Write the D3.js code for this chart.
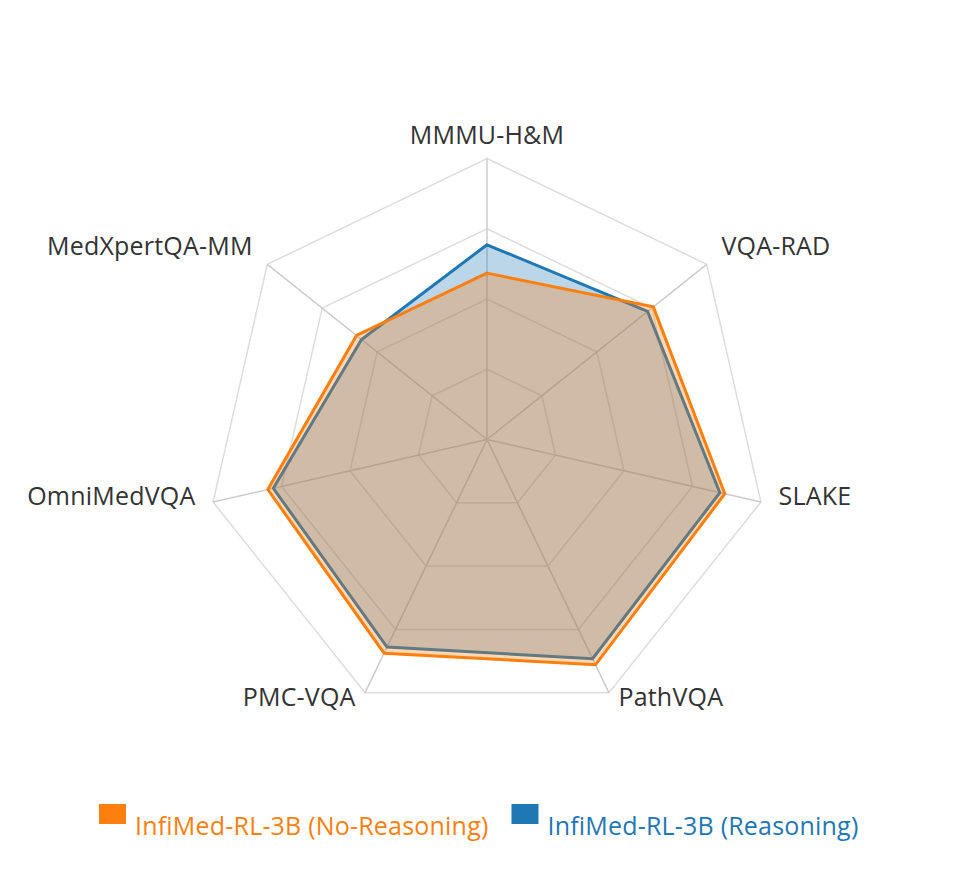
<!DOCTYPE html>
<html>
<head>
<meta charset="utf-8">
<script src="https://cdn.jsdelivr.net/npm/d3@7"></script>
<style>
  body { margin: 0; background: #fff; }
  text { font-family: "Open Sans", "Noto Sans", sans-serif; letter-spacing: 0.2px; }
</style>
</head>
<body>
<svg class="chart"></svg>
<script>
// DATA /////////////////////////////////
const axes = ["MMMU-H&M", "VQA-RAD", "SLAKE", "PathVQA", "PMC-VQA", "OmniMedVQA", "MedXpertQA-MM"];
const noReasoning = [59.2, 75.7, 86.8, 89.0, 84.4, 80.0, 59.4];
const reasoning = [69.3, 73.1, 85.0, 86.6, 82.0, 78.0, 57.1];
const seriesNames = ["InfiMed-RL-3B (No-Reasoning)", "InfiMed-RL-3B (Reasoning)"];
const levels = [25, 50, 75, 100];

// DEFINITIONS /////////////////////////////////
const width = 967;
const height = 880;
const cx = 487;
const cy = 439.5;
const R = 281;
const colors = ["#ff7f0e", "#1f77b4"];

const svg = d3.select(".chart").attr("width", width).attr("height", height);
const g = svg.append("g").attr("transform", `translate(${cx}, ${cy})`);

const r = d3.scaleLinear().domain([0, 100]).range([0, R]);
const angle = d3.scalePoint().domain(axes).range([0, 2 * Math.PI * (axes.length - 1) / axes.length]);
const pos = (name, v) => {
  const a = angle(name);
  return [Math.sin(a) * r(v), -Math.cos(a) * r(v)];
};

// GRID ////////////////////////////////
const ring = d3.lineRadial().curve(d3.curveLinearClosed);
g.selectAll(".ring")
  .data(levels)
  .enter()
  .append("path")
  .attr("class", "ring")
  .attr("d", (lv) => ring(axes.map((a) => [angle(a), r(lv)])))
  .attr("fill", "none")
  .attr("stroke", "#dddddd")
  .attr("stroke-width", 1.5);

g.selectAll(".spoke")
  .data(axes)
  .enter()
  .append("line")
  .attr("class", "spoke")
  .attr("x1", 0)
  .attr("y1", 0)
  .attr("x2", (d) => pos(d, 100)[0])
  .attr("y2", (d) => pos(d, 100)[1])
  .attr("stroke", "#cccccc")
  .attr("stroke-width", 1.5);

// SERIES //////////////////////////////
const area = d3.lineRadial()
  .angle((d, i) => angle(axes[i]))
  .radius((d) => r(d))
  .curve(d3.curveLinearClosed);

// reasoning drawn first, no-reasoning on top
[[reasoning, 1], [noReasoning, 0]].forEach(([vals, k]) => {
  g.append("path")
    .attr("d", area(vals))
    .attr("fill", colors[k])
    .attr("fill-opacity", 0.3)
    .attr("stroke", colors[k])
    .attr("stroke-width", 3)
    .attr("stroke-linejoin", "miter");
});

// LABELS //////////////////////////////
g.selectAll(".axis-label")
  .data(axes)
  .enter()
  .append("text")
  .attr("class", "axis-label")
  .attr("x", (d) => {
    const p = pos(d, 100 * (R + 15) / R)[0];
    return Math.abs(p) < 1 ? p : p + Math.sign(p) * 3;
  })
  .attr("y", (d) => pos(d, 100 * (R + 15) / R)[1])
  .attr("text-anchor", (d) => {
    const p = pos(d, 100)[0];
    return Math.abs(p) < 1 ? "middle" : p > 0 ? "start" : "end";
  })
  .attr("font-size", 25)
  .attr("fill", "#333")
  .text((d) => d);

// LEGEND //////////////////////////////
let lx = 99;
seriesNames.forEach((name, i) => {
  svg.append("rect")
    .attr("x", lx)
    .attr("y", 804)
    .attr("width", 27)
    .attr("height", 20)
    .attr("fill", colors[i]);
  const t = svg.append("text")
    .attr("x", lx + 36)
    .attr("y", 835)
    .attr("font-size", 25)
    .attr("fill", colors[i])
    .text(name);
  lx += 36 + t.node().getComputedTextLength() + 23;
});
</script>
</body>
</html>
